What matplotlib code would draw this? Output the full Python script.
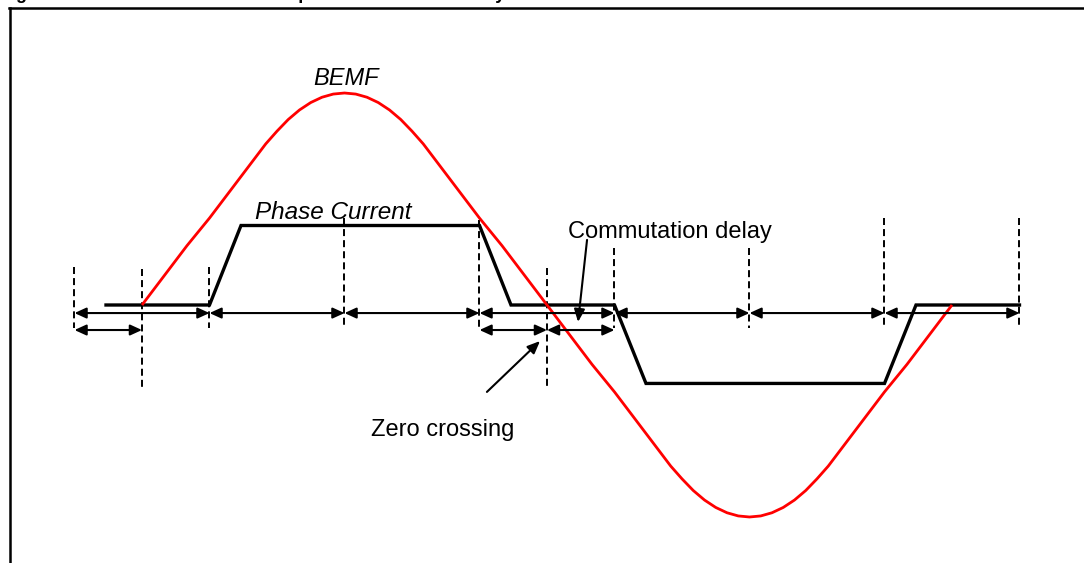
import matplotlib
matplotlib.use("Agg")
import matplotlib.pyplot as plt
from matplotlib.lines import Line2D

plt.rcParams['font.family'] = ['Liberation Sans', 'DejaVu Sans']

## Data (x in electrical degrees, y in BEMF amplitude units)
bemf_deg = list(range(0, 361, 5))
bemf_val = [0.00, 0.07, 0.14, 0.21, 0.28, 0.345, 0.41, 0.48, 0.55, 0.62,
            0.69, 0.76, 0.82, 0.875, 0.92, 0.955, 0.98, 0.995, 1.00,
            0.995, 0.98, 0.955, 0.92, 0.875, 0.82, 0.76, 0.69, 0.62,
            0.55, 0.48, 0.41, 0.345, 0.28, 0.21, 0.14, 0.07, 0.00,
            -0.07, -0.14, -0.21, -0.28, -0.345, -0.41, -0.48, -0.55, -0.62,
            -0.69, -0.76, -0.82, -0.875, -0.92, -0.955, -0.98, -0.995, -1.00,
            -0.995, -0.98, -0.955, -0.92, -0.875, -0.82, -0.76, -0.69, -0.62,
            -0.55, -0.48, -0.41, -0.345, -0.28, -0.21, -0.14, -0.07, 0.00]

current_deg = [-16, 30, 44, 150, 164, 210, 224, 330, 344, 390]
current_val = [0, 0, 0.375, 0.375, 0, 0, -0.37, -0.37, 0, 0]

grid_deg = [-30, 0, 30, 90, 150, 180, 210, 270, 330, 390]
grid_top = [0.18, 0.17, 0.18, 0.41, 0.40, 0.175, 0.27, 0.27, 0.41, 0.41]
grid_bottom = [-0.11, -0.39, -0.11, -0.11, -0.11, -0.39, -0.11, -0.11, -0.11, -0.11]

sector_bounds = [-30, 30, 90, 150, 210, 270, 330, 390]
delay_spans = [(-30, 0), (150, 180), (180, 210)]

sector_row = -0.038
delay_row = -0.118

## Figure
fig = plt.figure(figsize=(10.84, 5.63), dpi=100)
ax = fig.add_axes([0, 0, 1, 1])
ax.set_xlim(-63.11, 418.67)
ax.set_ylim(-1.217, 1.4387)
ax.axis('off')

# frame (cut-off box of the original figure)
fig.add_artist(Line2D([10 / 1084, 10 / 1084], [0, 1 - 7.5 / 563], color='black', lw=1.8,
                      transform=fig.transFigure))
fig.add_artist(Line2D([9 / 1084, 1], [1 - 7.5 / 563, 1 - 7.5 / 563], color='black', lw=1.8,
                      transform=fig.transFigure))

# clipped caption, only descenders show
fig.text(0 / 1084, 1 + 1 / 563, "Figure 5.", fontsize=13, fontweight='bold', va='baseline')
fig.text(136 / 1084, 1 + 1 / 563, "Commutation with phase current and delay", fontsize=13,
         fontweight='bold', va='baseline')

# dashed guides
for x, y0, y1 in zip(grid_deg, grid_top, grid_bottom):
    ax.plot([x, x], [y0, y1], color='black', lw=1.4, linestyle=(0, (3.6, 2.1)), zorder=2)

# BEMF and phase current
ax.plot(bemf_deg, bemf_val, color='#ff0000', lw=2.0, zorder=4, solid_capstyle='butt',
        solid_joinstyle='round')
ax.plot(current_deg, current_val, color='black', lw=2.4, zorder=3, solid_joinstyle='miter')

# sector arrows
arrow_kw = dict(arrowstyle='<|-|>,head_length=0.7,head_width=0.32', color='black', lw=1.5,
                shrinkA=0, shrinkB=0)
for a, b in zip(sector_bounds[:-1], sector_bounds[1:]):
    ax.annotate('', xy=(b, sector_row), xytext=(a, sector_row), arrowprops=arrow_kw, zorder=5)
for a, b in delay_spans:
    ax.annotate('', xy=(b, delay_row), xytext=(a, delay_row), arrowprops=arrow_kw, zorder=5)

# labels
ax.text(90.5, 1.07, 'BEMF', fontsize=17, style='italic', ha='center', va='center')
ax.text(85, 0.405, 'Phase Current', fontsize=17.5, style='italic', ha='center', va='baseline')
ax.text(234.5, 0.315, 'Commutation delay', fontsize=17, ha='center', va='baseline')
ax.text(133.8, -0.62, 'Zero crossing', fontsize=17, ha='center', va='baseline')

pointer_kw = dict(arrowstyle='-|>,head_length=0.75,head_width=0.32', color='black', lw=1.5,
                  shrinkA=0, shrinkB=0)
ax.annotate('', xy=(193.8, -0.08), xytext=(197.8, 0.307), arrowprops=pointer_kw)
ax.annotate('', xy=(176.9, -0.17), xytext=(153.3, -0.41), arrowprops=pointer_kw)

fig.savefig('out.png', dpi=100)
